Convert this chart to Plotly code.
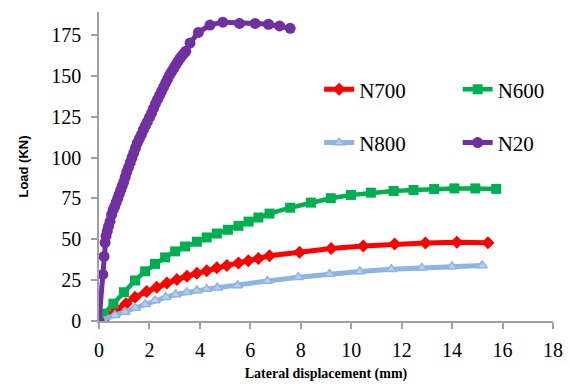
import plotly.graph_objects as go

# ---- data ----
n700_x = [0.0, 0.35, 0.7, 1.07, 1.43, 1.89, 2.29, 2.69, 3.09, 3.49, 3.88, 4.27, 4.67,
          5.07, 5.53, 5.92, 6.32, 6.76, 7.95, 9.2, 10.48, 11.72, 12.94, 14.19, 15.42]
n700_y = [0.0, 3.5, 7.0, 10.6, 14.6, 18.0, 20.6, 23.3, 25.4, 27.4, 29.2, 30.8, 32.5,
          33.9, 35.5, 36.9, 38.3, 39.9, 42.0, 44.3, 45.8, 47.1, 47.7, 48.1, 47.9]

n600_x = [0.0, 0.2, 0.57, 0.99, 1.43, 1.83, 2.22, 2.62, 3.02, 3.41, 3.88, 4.27, 4.67,
          5.11, 5.53, 5.93, 6.32, 6.76, 7.58, 8.4, 9.19, 9.99, 10.78, 11.68, 12.47,
          13.29, 14.09, 14.92, 15.75]
n600_y = [0.0, 4.5, 10.6, 17.6, 24.8, 30.4, 34.9, 38.9, 42.6, 45.6, 48.5, 51.1, 53.5,
          55.8, 58.2, 60.8, 63.3, 65.7, 69.3, 72.4, 75.1, 77.1, 78.5, 79.5, 80.1,
          80.7, 81.1, 81.1, 80.8]

n800_x = [0.0, 0.63, 1.03, 1.43, 1.83, 2.22, 2.65, 3.04, 3.48, 3.88, 4.27, 4.69,
          5.49, 6.67, 7.9, 9.14, 10.34, 11.59, 12.8, 14.0, 15.19]
n800_y = [0.0, 3.5, 5.5, 7.9, 10.2, 12.6, 14.6, 16.2, 17.6, 18.7, 19.5, 20.3,
          21.7, 24.5, 26.8, 28.8, 30.3, 31.6, 32.5, 33.3, 33.9]

n20_x = [0.0, 0.15, 0.2, 0.24, 0.28, 0.33, 0.38, 0.44, 0.5, 0.56, 0.62, 0.68, 0.74,
         0.8, 0.86, 0.92, 0.98, 1.04, 1.1, 1.17, 1.24, 1.31, 1.38, 1.45, 1.52, 1.6,
         1.68, 1.76, 1.84, 1.92, 2.0, 2.08, 2.16, 2.24, 2.32, 2.4, 2.48, 2.56, 2.64,
         2.72, 2.8, 2.88, 2.96, 3.04, 3.12, 3.2, 3.28, 3.36, 3.44, 3.61, 3.94, 4.4,
         4.91, 5.57, 6.19, 6.72, 7.16, 7.58]
n20_y = [0.0, 28.5, 39.5, 48.0, 52.0, 55.0, 58.0, 61.0, 65.0, 68.0, 70.0, 72.5, 75.0,
         77.5, 80.0, 82.5, 85.0, 88.0, 91.0, 94.0, 97.0, 100.0, 103.0, 106.0, 109.0,
         111.5, 114.0, 117.0, 119.5, 122.0, 124.5, 127.0, 130.0, 133.0, 135.5, 138.0,
         140.5, 143.0, 145.5, 148.0, 150.5, 152.5, 154.5, 156.5, 158.5, 160.5, 162.0,
         163.5, 165.0, 170.0, 176.5, 181.0, 182.8, 182.0, 182.0, 181.5, 180.5, 179.0]

x_ticks = [0, 2, 4, 6, 8, 10, 12, 14, 16, 18]
y_ticks = [0, 25, 50, 75, 100, 125, 150, 175]

SERIF = "Liberation Serif"
SANS = "Liberation Sans"

fig = go.Figure()
fig.add_trace(go.Scatter(x=n700_x, y=n700_y, name="N700", mode="lines+markers",
                         line=dict(color="#FF0000", width=5),
                         marker=dict(symbol="diamond", size=10, color="#FF0000"),
                         legend="legend", legendgroup="a"))
fig.add_trace(go.Scatter(x=n600_x, y=n600_y, name="N600", mode="lines+markers",
                         line=dict(color="#00B050", width=4.5),
                         marker=dict(symbol="square", size=10, color="#00B050"),
                         legend="legend2", legendgroup="b"))
fig.add_trace(go.Scatter(x=n800_x, y=n800_y, name="N800", mode="lines+markers",
                         line=dict(color="#8EB4E3", width=5),
                         marker=dict(symbol="triangle-up", size=9, color="#B9CDE8",
                                     line=dict(color="#8EB4E3", width=1.5)),
                         legend="legend", legendgroup="c"))
fig.add_trace(go.Scatter(x=n20_x, y=n20_y, name="N20", mode="lines+markers",
                         line=dict(color="#7030A0", width=5),
                         marker=dict(symbol="circle", size=11, color="#7030A0"),
                         legend="legend2", legendgroup="d"))

axis_common = dict(showgrid=False, zeroline=False, showline=True, automargin=False,
                   linecolor="#A0A0A0", linewidth=1.5, ticks="outside",
                   ticklen=6, tickcolor="#A0A0A0", tickwidth=1.5,
                   tickfont=dict(family=SERIF, size=20, color="#000000"))

fig.update_layout(
    width=570, height=389,
    margin=dict(l=99, r=17, t=12, b=68),
    paper_bgcolor="white", plot_bgcolor="white",
    font=dict(family=SERIF, color="#000000"),
    xaxis=dict(range=[0, 18], tickvals=x_ticks, **axis_common, ticklabelstandoff=4,
               title=dict(text="Lateral displacement (mm)",
                          font=dict(family=SERIF, size=14, color="#000000", weight="bold"),
                          standoff=8)),
    yaxis=dict(range=[0, 189], tickvals=y_ticks, **axis_common, ticklabelstandoff=6,
               title=dict(text="Load (KN)",
                          font=dict(family=SANS, size=13, color="#000000", weight="bold"),
                          standoff=20)),
    legend=dict(x=0.485, y=0.815, xanchor="left", yanchor="top", bgcolor="rgba(0,0,0,0)",
                font=dict(family=SERIF, size=21, color="#000000"), tracegroupgap=23),
    legend2=dict(x=0.79, y=0.815, xanchor="left", yanchor="top", bgcolor="rgba(0,0,0,0)",
                 font=dict(family=SERIF, size=21, color="#000000"), tracegroupgap=23),
)

fig.write_html("out.html")
